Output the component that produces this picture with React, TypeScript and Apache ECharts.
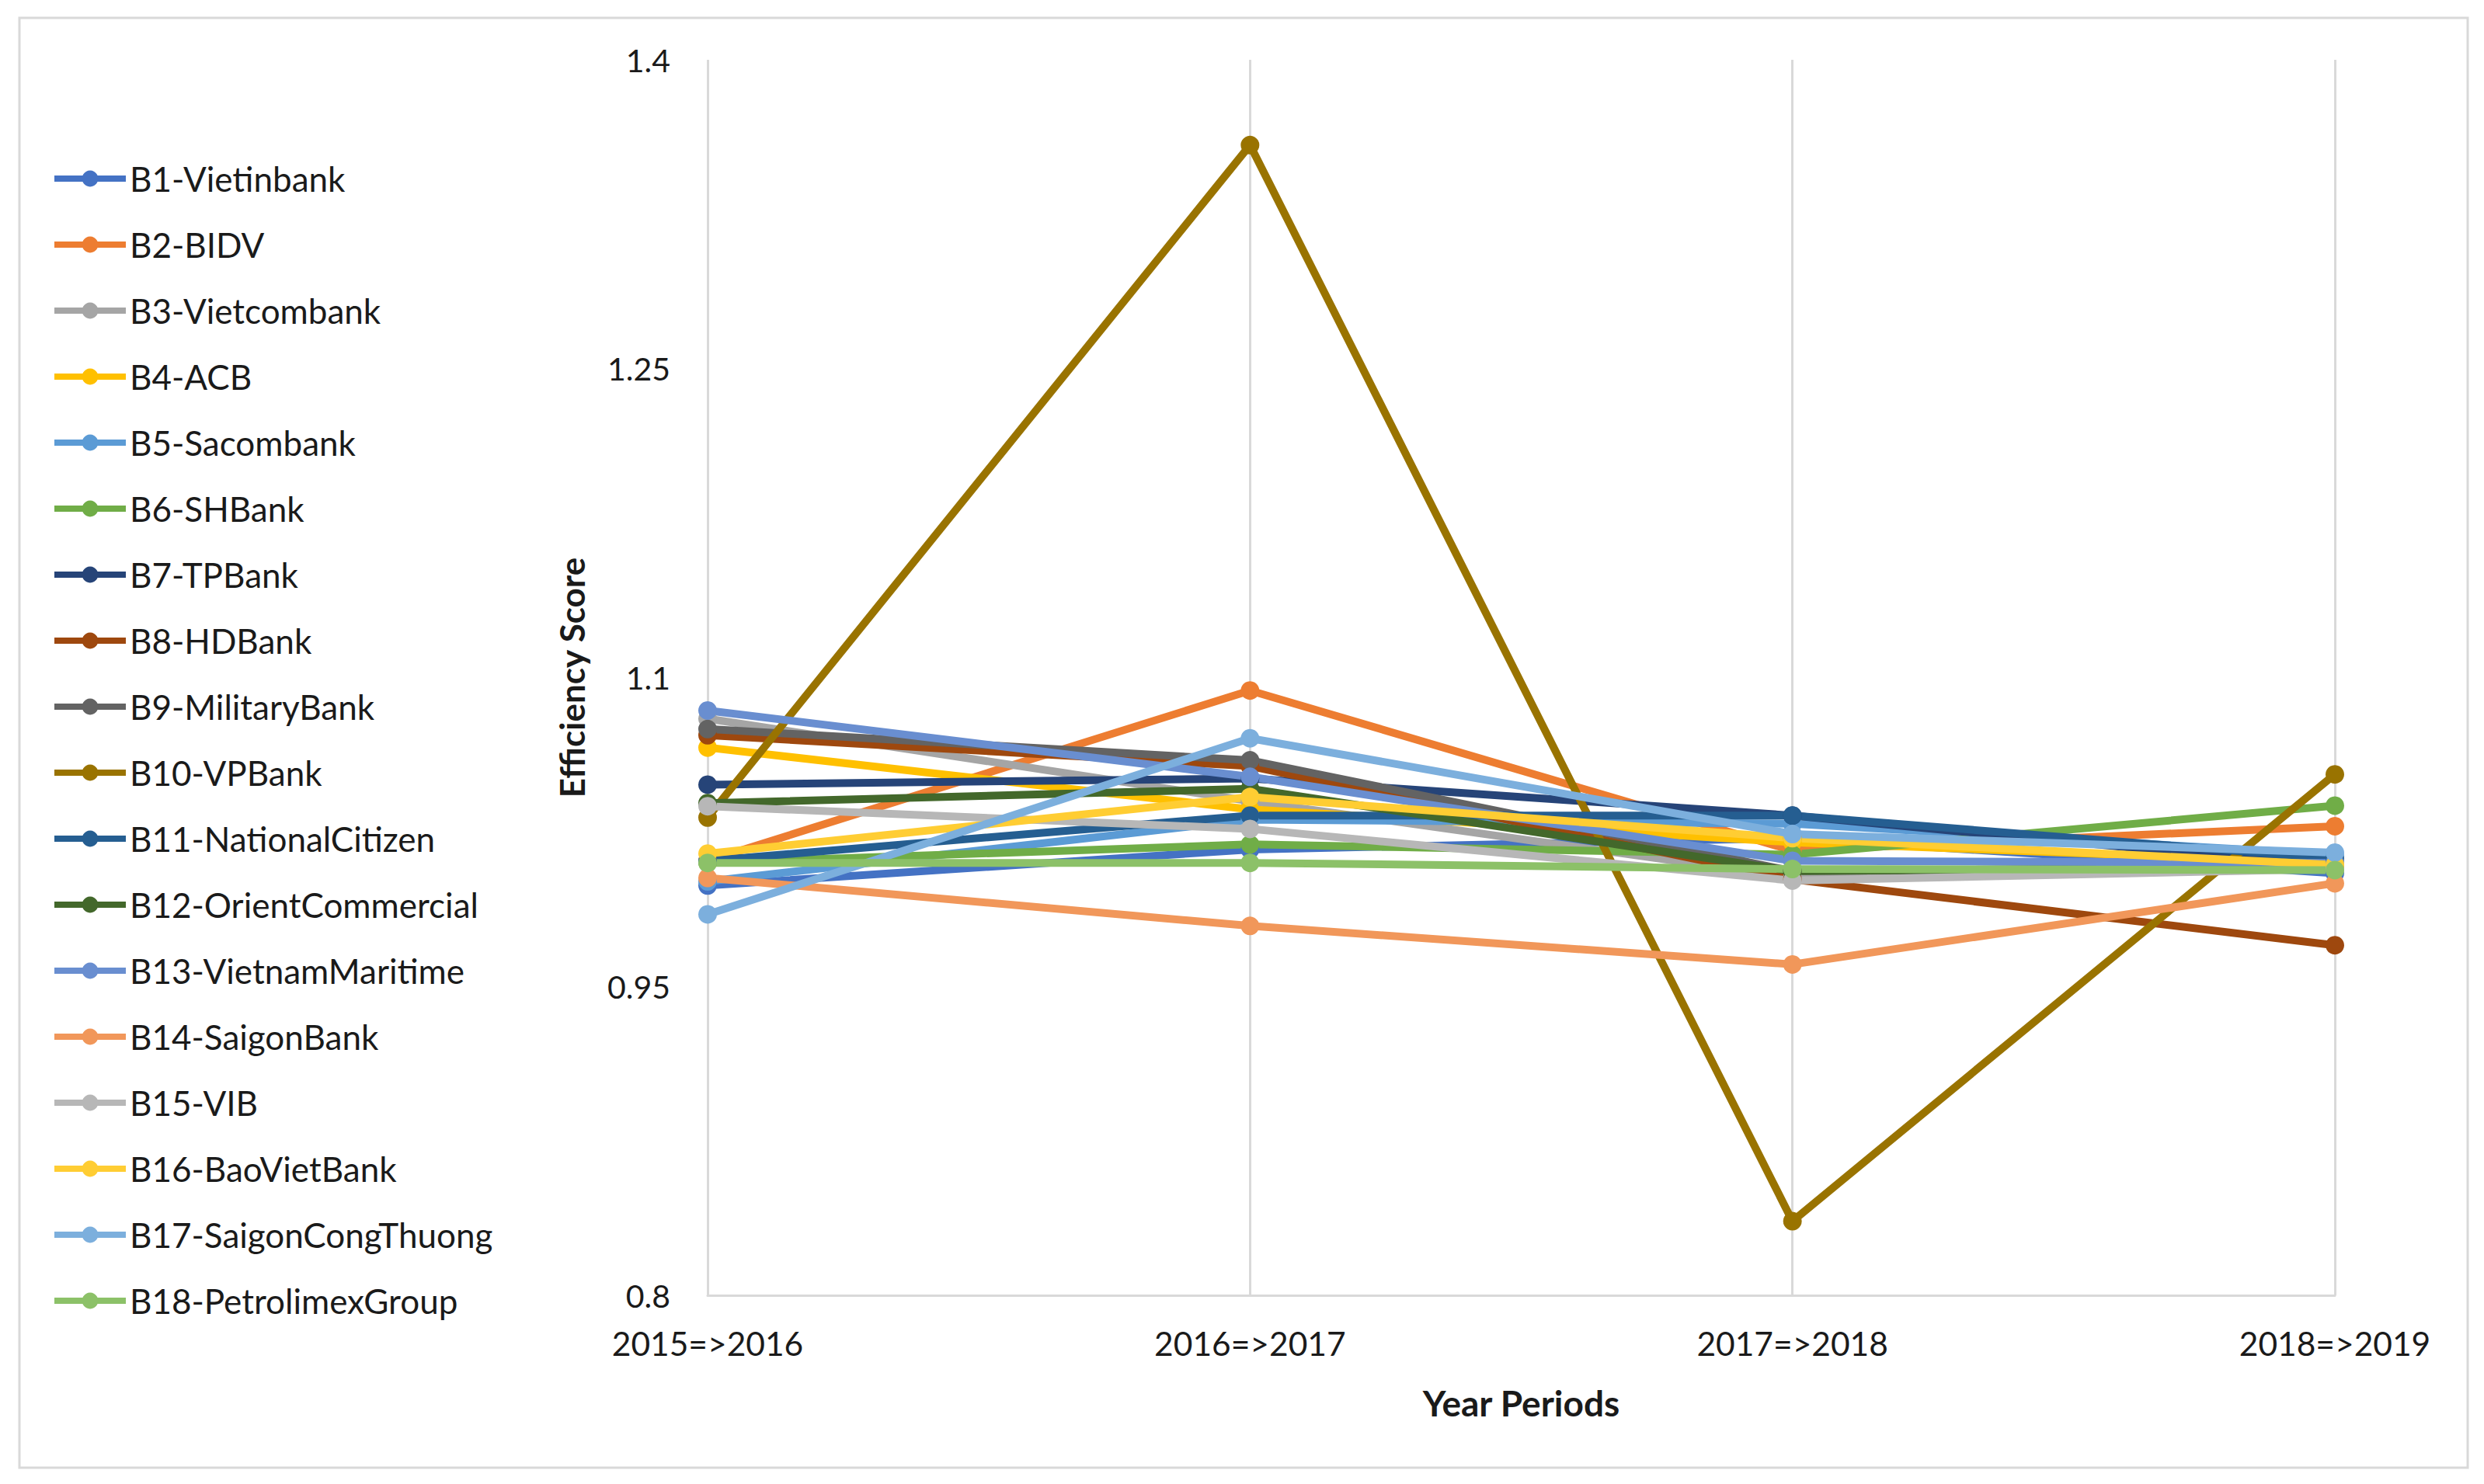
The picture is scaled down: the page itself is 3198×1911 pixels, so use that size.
import React, { useEffect, useRef } from "react";
import * as echarts from "echarts";

const periods = ["2015=>2016", "2016=>2017", "2017=>2018", "2018=>2019"];

const bankNames = [
  "B1-Vietinbank",
  "B2-BIDV",
  "B3-Vietcombank",
  "B4-ACB",
  "B5-Sacombank",
  "B6-SHBank",
  "B7-TPBank",
  "B8-HDBank",
  "B9-MilitaryBank",
  "B10-VPBank",
  "B11-NationalCitizen",
  "B12-OrientCommercial",
  "B13-VietnamMaritime",
  "B14-SaigonBank",
  "B15-VIB",
  "B16-BaoVietBank",
  "B17-SaigonCongThuong",
  "B18-PetrolimexGroup",
];

const bankColors = [
  "#4472C4", "#ED7D31", "#A5A5A5", "#FFC000", "#5B9BD5", "#70AD47",
  "#264478", "#9E480E", "#636363", "#997300", "#255E91", "#43682B",
  "#698ED0", "#F1975A", "#B7B7B7", "#FFCD33", "#7CAFDD", "#8CC168",
];

const b1 = [0.999, 1.0165, 1.022, 1.005];
const b2 = [1.011, 1.0937, 1.016, 1.0278];
const b3 = [1.08, 1.04, 1.003, 1.008];
const b4 = [1.066, 1.036, 1.02, 1.01];
const b5 = [1.001, 1.031, 1.029, 1.014];
const b6 = [1.01, 1.019, 1.014, 1.0378];
const b7 = [1.048, 1.051, 1.033, 1.008];
const b8 = [1.072, 1.057, 1.002, 0.97];
const b9 = [1.075, 1.0598, 1.006, 1.008];
const b10 = [1.032, 1.3586, 0.836, 1.053];
const b11 = [1.011, 1.033, 1.033, 1.012];
const b12 = [1.039, 1.046, 1.006, 1.008];
const b13 = [1.084, 1.0518, 1.011, 1.01];
const b14 = [1.0027, 0.9794, 0.9607, 1.0001];
const b15 = [1.0375, 1.0265, 1.0014, 1.007];
const b16 = [1.0145, 1.042, 1.022, 1.009];
const b17 = [0.985, 1.0705, 1.024, 1.015];
const b18 = [1.01, 1.01, 1.007, 1.0065];

const bankValues = [b1, b2, b3, b4, b5, b6, b7, b8, b9, b10, b11, b12, b13, b14, b15, b16, b17, b18];

const FONT = "Lato";
const TEXT = "#1a1a1a";

export default function App() {
  const ref = useRef<HTMLDivElement>(null);

  useEffect(() => {
    if (!ref.current) return;
    const chart = echarts.init(ref.current, null, { renderer: "svg" });
    const series = bankNames.map((name, i) => ({
      name,
      type: "line",
      data: bankValues[i],
      symbol: "circle",
      symbolSize: 24,
      color: bankColors[i],
      lineStyle: { width: 10, color: bankColors[i] },
      itemStyle: { color: bankColors[i] },
      emphasis: { disabled: true },
    }));
    chart.setOption({
      animation: false,
      backgroundColor: "#ffffff",
      graphic: [
        {
          type: "rect",
          shape: { x: 25, y: 23, width: 3152, height: 1867 },
          style: { fill: "none", stroke: "#d9d9d9", lineWidth: 3 },
          silent: true,
        },
      ],
      legend: {
        orient: "vertical",
        left: 66,
        top: 208,
        padding: 0,
        itemWidth: 92,
        itemHeight: 26,
        itemGap: 41,
        lineStyle: { width: 8 },
        textStyle: { fontFamily: FONT, fontSize: 44, color: TEXT, lineHeight: 44 },
        data: bankNames,
      },
      grid: { left: 911, right: 192, top: 77, bottom: 243, containLabel: false },
      xAxis: {
        type: "category",
        data: periods,
        boundaryGap: false,
        axisLine: { show: true, lineStyle: { color: "#d9d9d9", width: 3 } },
        axisTick: { show: false },
        splitLine: { show: true, lineStyle: { color: "#d9d9d9", width: 3 } },
        axisLabel: { fontFamily: FONT, fontSize: 42.5, color: TEXT, margin: 40 },
        name: "Year Periods",
        nameLocation: "middle",
        nameGap: 115,
        nameTextStyle: { fontFamily: FONT, fontSize: 46, fontWeight: "bold", color: TEXT },
      },
      yAxis: {
        type: "value",
        min: 0.8,
        max: 1.4,
        interval: 0.15,
        axisLine: { show: false },
        axisTick: { show: false },
        splitLine: { show: false },
        axisLabel: { fontFamily: FONT, fontSize: 41, color: TEXT, margin: 48 },
        name: "Efficiency Score",
        nameLocation: "middle",
        nameRotate: 90,
        nameGap: 153,
        nameTextStyle: { fontFamily: FONT, fontSize: 44, fontWeight: "bold", color: TEXT },
      },
      series,
    });
    return () => chart.dispose();
  }, []);

  return (
    <div
      ref={ref}
      style={{ position: "fixed", left: 0, top: 0, width: 3198, height: 1911, background: "#fff" }}
    />
  );
}
